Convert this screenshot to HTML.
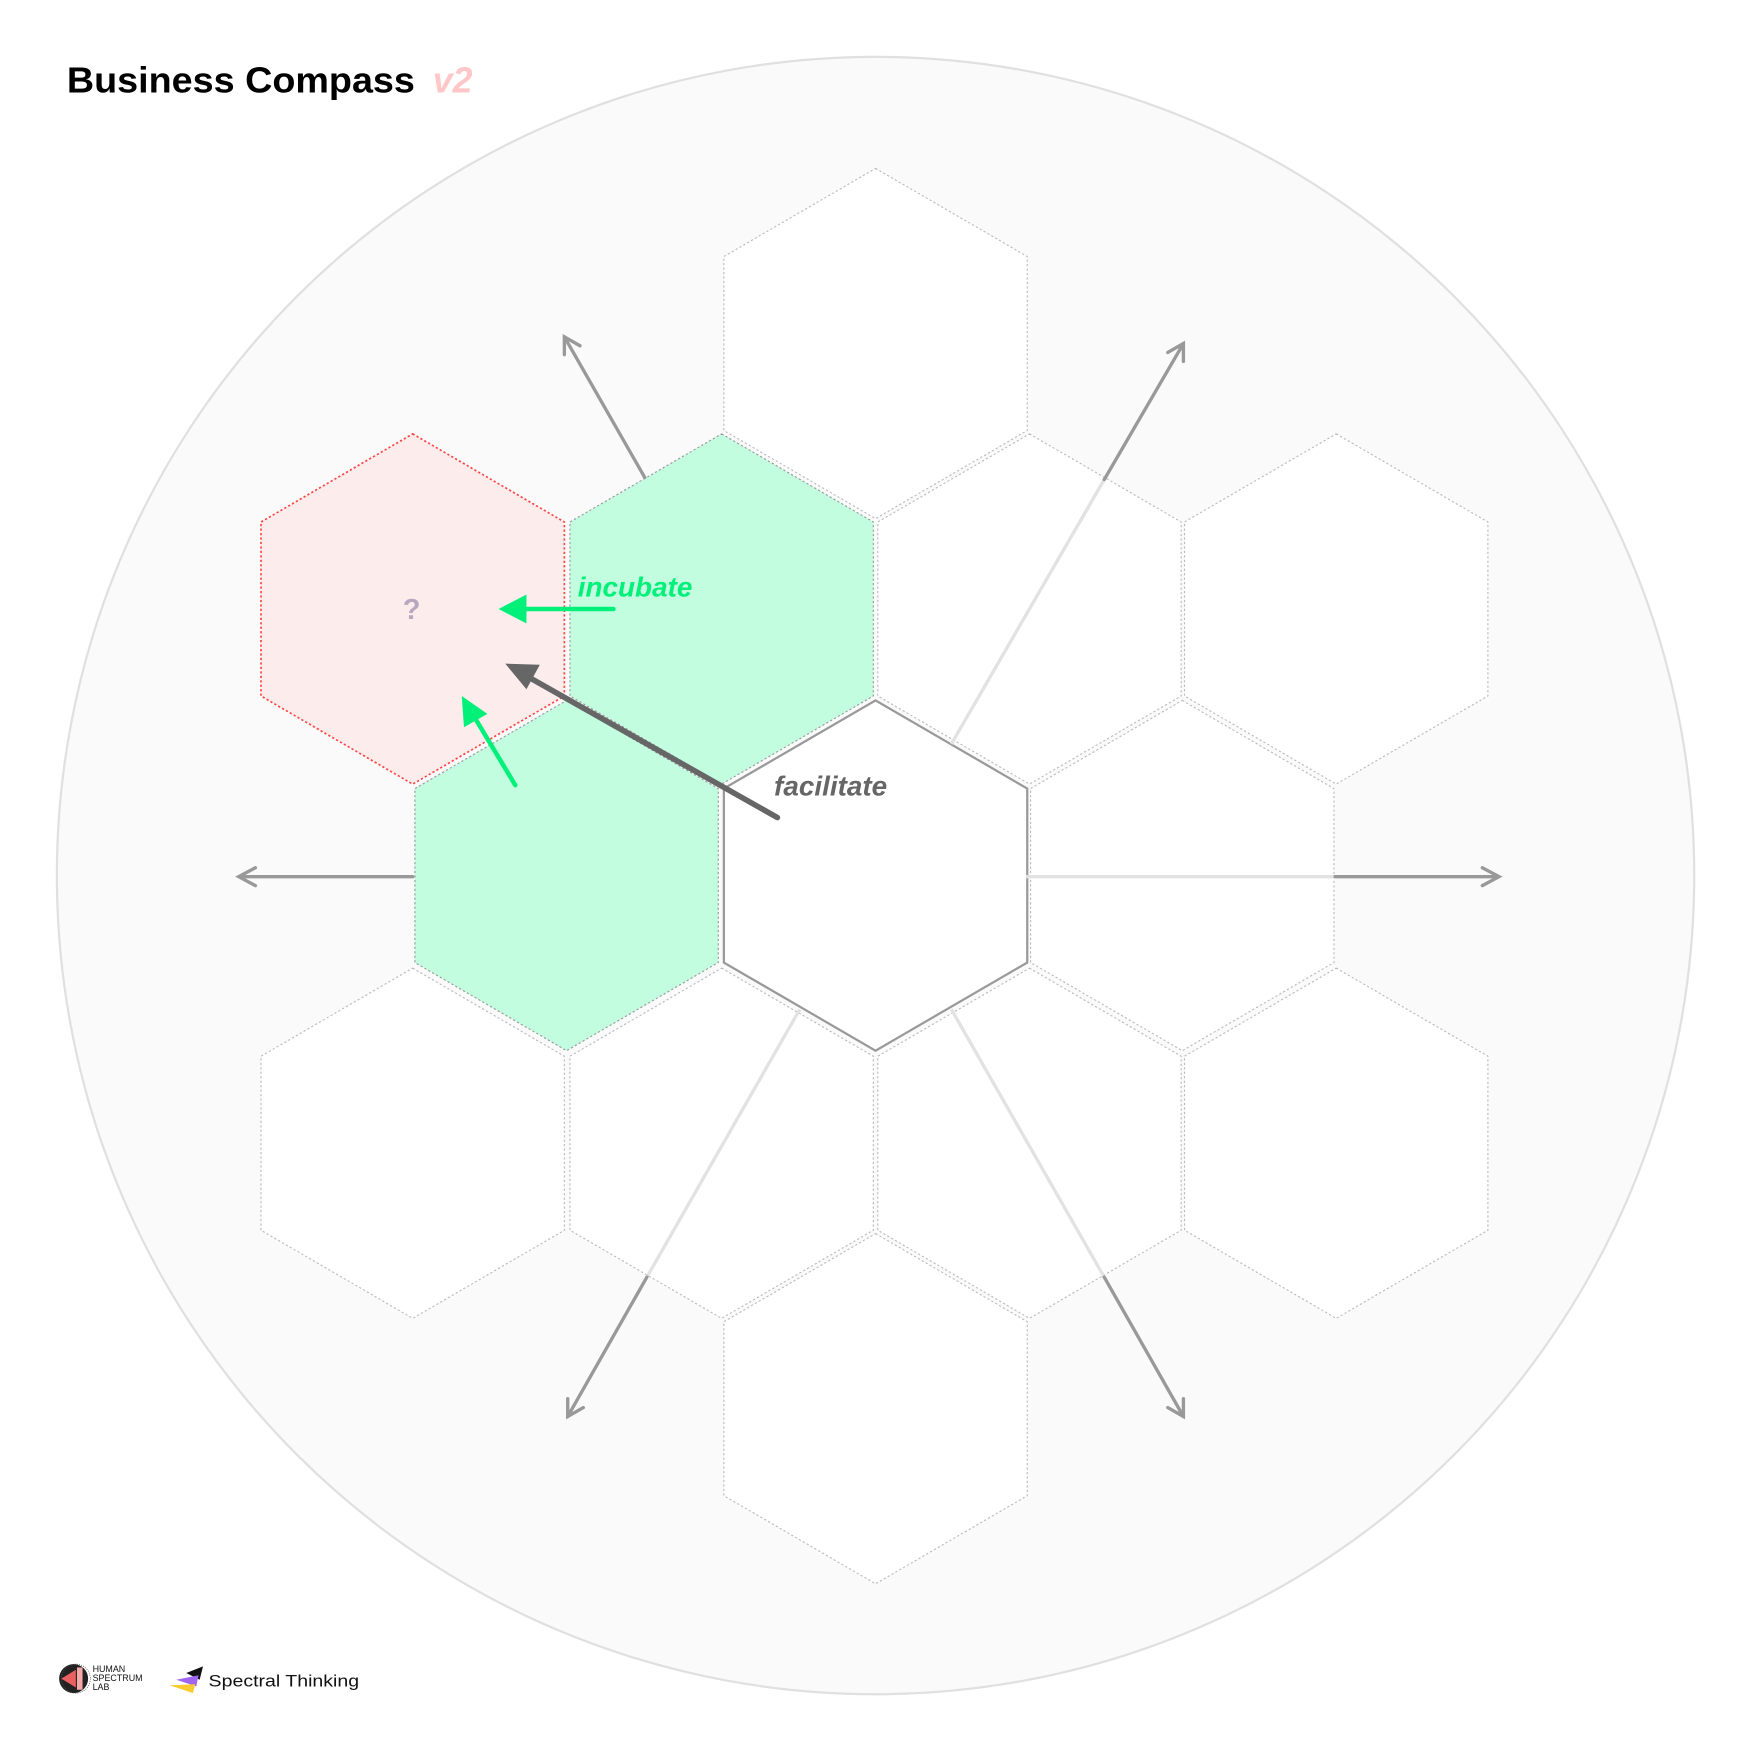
<!DOCTYPE html>
<html><head><meta charset="utf-8"><style>
html,body{margin:0;padding:0;background:#fff;width:1750px;height:1750px;overflow:hidden}
svg{display:block}
text{font-family:"Liberation Sans",sans-serif}
</style></head><body>
<svg width="1750" height="1750" viewBox="0 0 1569 1569" xmlns="http://www.w3.org/2000/svg">
<defs>
<polygon id="hx" points="0,-157 136,-78 136,78 0,157 -136,78 -136,-78"/>
</defs>
<circle cx="785" cy="785" r="734" fill="#fafafa" stroke="#e0e0e0" stroke-width="2"/>
<g fill="#fff" stroke="#bbb" stroke-width="1" stroke-dasharray="2,2">
<use href="#hx" x="785" y="308"/>
<use href="#hx" x="923" y="546"/>
<use href="#hx" x="1198" y="546"/>
<use href="#hx" x="1060" y="785"/>
<use href="#hx" x="1198" y="1025"/>
<use href="#hx" x="923" y="1025"/>
<use href="#hx" x="647" y="1025"/>
<use href="#hx" x="370" y="1025"/>
<use href="#hx" x="785" y="1263"/>
</g>
<g fill="#c2fde0" stroke="#999" stroke-width="1" stroke-dasharray="2,2">
<use href="#hx" x="647" y="546"/>
<use href="#hx" x="508" y="785"/>
</g>
<use href="#hx" x="370" y="546" fill="#fdecec" stroke="#f44" stroke-width="1.5" stroke-dasharray="2,2"/>
<use href="#hx" x="785" y="785" fill="#fff" stroke="#999" stroke-width="2"/>
<g stroke="#e2e2e2" stroke-width="3" fill="none">
<line x1="920" y1="786" x2="1197" y2="786"/>
<line x1="853" y1="667" x2="990" y2="430"/>
<line x1="853" y1="905" x2="990" y2="1145"/>
<line x1="717" y1="905" x2="580" y2="1145"/>
</g>
<g stroke="#999" stroke-width="3" fill="none" stroke-linecap="round">
<line x1="1197" y1="786" x2="1343" y2="786"/><polyline points="1329,778 1344,786 1329,794"/>
<line x1="370" y1="786" x2="215" y2="786"/><polyline points="229,778 214,786 229,794"/>
<line x1="578" y1="428" x2="506" y2="302"/><polyline points="506,318 506,302 520,310"/>
<line x1="990" y1="430" x2="1061" y2="308"/><polyline points="1047,316 1061,308 1061,324"/>
<line x1="990" y1="1145" x2="1061" y2="1270"/><polyline points="1061,1254 1061,1270 1047,1262"/>
<line x1="580" y1="1145" x2="509" y2="1270"/><polyline points="509,1254 509,1270 523,1262"/>
</g>
<g stroke="#00f07a" stroke-width="4" stroke-linecap="round" fill="#00f07a">
<line x1="550" y1="546" x2="468" y2="546"/>
<polygon points="447,546 472,533 472,559" stroke="none"/>
<line x1="462" y1="704" x2="426" y2="644"/>
<polygon points="414,624 437,640 416,652" stroke="none"/>
</g>
<g stroke="#666" stroke-width="5" stroke-linecap="round" fill="#666">
<line x1="697" y1="733" x2="472" y2="606"/>
<polygon points="453,595 484,596 472,618" stroke="none"/>
</g>
<text x="518" y="535" font-size="25" font-weight="bold" font-style="italic" fill="#00f07a">incubate</text>
<text x="694" y="713" font-size="25" font-weight="bold" font-style="italic" fill="#666">facilitate</text>
<text x="369" y="555" font-size="26" font-weight="bold" fill="#b7a8c0" text-anchor="middle">?</text>
<text x="60" y="83" font-size="32" font-weight="bold" fill="#000" textLength="312" lengthAdjust="spacingAndGlyphs">Business Compass</text>
<text x="388" y="83" font-size="32" font-weight="bold" font-style="italic" fill="#ffc7c7">v2</text>
<circle cx="66" cy="1505" r="13" fill="#222"/>
<circle cx="68" cy="1505" r="13" fill="none" stroke="#555" stroke-width="0.6" stroke-dasharray="1,1"/>
<polygon points="55,1505 68,1497 68,1513" fill="#e86060"/>
<rect x="69" y="1495" width="5" height="20" fill="#f6a7a7"/>
<text x="83" y="1499" font-size="8" fill="#111">HUMAN</text>
<text x="83" y="1507" font-size="8" fill="#111">SPECTRUM</text>
<text x="83" y="1515" font-size="8" fill="#111">LAB</text>
<polygon points="167,1500 182,1494 179,1506" fill="#111"/>
<polygon points="158,1506 178,1502 176,1512" fill="#a066f0"/>
<polygon points="152,1511 175,1510 173,1518" fill="#f8cc30"/>
<text x="187" y="1512" font-size="15" fill="#111" textLength="135" lengthAdjust="spacingAndGlyphs">Spectral Thinking</text>
</svg>
</body></html>
